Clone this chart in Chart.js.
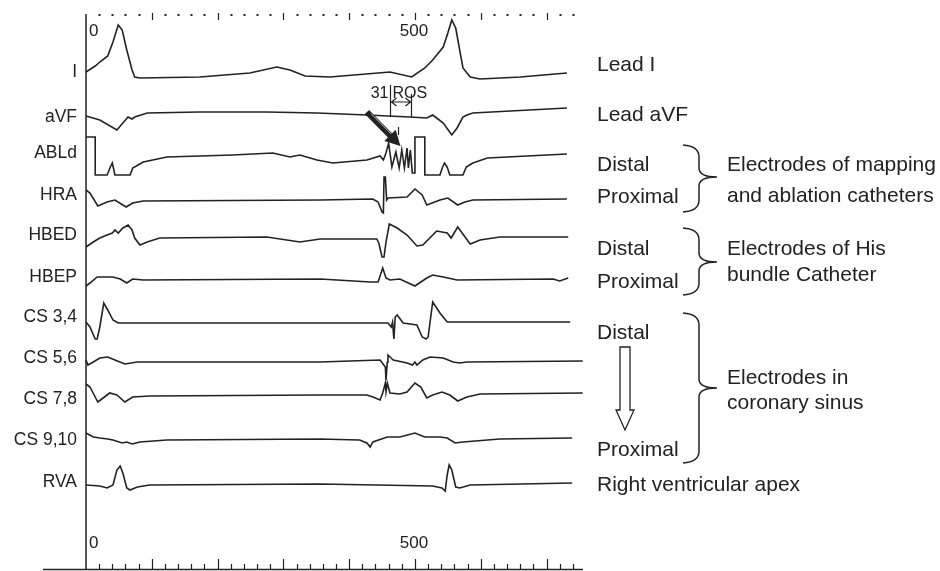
<!DOCTYPE html>
<html><head><meta charset="utf-8">
<script src="https://cdn.jsdelivr.net/npm/chart.js@4"></script>
<style>html,body{margin:0;padding:0;background:#fff}canvas{display:block}</style>
</head><body>
<canvas id="c" width="940" height="571"></canvas>
<script>
// ---- DATA (time in ms, amplitude in display units, up = positive) ----
const channelLabels = ['I','aVF','ABLd','HRA','HBED','HBEP','CS 3,4','CS 5,6','CS 7,8','CS 9,10','RVA'];
const leadI = [[0,5],[14,11],[21,15],[33,21],[41,35],[49,52],[55,47],[62,27],[70,7],[74,0],[82,-1],[173,0],[249,4],[290,10],[310,7],[333,1],[371,0],[462,5],[495,0],[515,9],[527,17],[543,30],[550,44],[556,57],[562,49],[568,27],[573,9],[584,0],[599,-2],[660,0],[731,4]];
const leadAVF = [[0,-3],[21,-7],[47,-17],[56,-10],[64,-4],[70,-6],[74,-4],[93,0],[173,1],[275,1],[351,0],[427,-2],[492,-4],[518,-5],[527,-2],[533,-5],[543,-10],[556,-22],[564,-15],[573,-4],[579,-2],[588,0],[731,5]];
const ablD = [[0,18],[14,18],[14,-20],[32,-20],[37,-12],[40,-8],[44,-20],[67,-20],[71,-13],[87,-7],[123,-2],[223,0],[284,2],[310,-2],[325,0],[351,-5],[375,-8],[427,-5],[447,-1],[452,-5],[456,2],[460,12],[465,-12],[471,3],[476,-13],[480,5],[484,-13],[488,7],[490,-13],[493,5],[496,-18],[500,-18],[500,18],[515,18],[515,-20],[538,-20],[542,-12],[545,-8],[549,-12],[553,-20],[573,-20],[578,-12],[588,-8],[610,-3],[731,1]];
const hra = [[0,10],[6,7],[18,-6],[32,-2],[44,0],[61,-7],[71,-3],[87,-1],[356,0],[436,1],[444,-2],[450,-12],[452,-13],[453,23],[455,23],[457,0],[459,2],[488,3],[500,11],[511,5],[518,-5],[538,0],[550,2],[565,-5],[576,-2],[588,0],[731,1]];
const hbed = [[0,-9],[11,-4],[21,0],[32,3],[40,5],[44,8],[49,5],[56,10],[64,13],[70,8],[74,0],[82,-7],[93,-4],[112,0],[275,1],[325,-4],[356,-1],[427,-1],[442,-1],[445,-5],[450,-19],[453,-19],[456,-4],[461,14],[473,10],[488,3],[503,-8],[512,-7],[533,7],[549,5],[555,0],[565,11],[584,-6],[599,-2],[629,1],[733,1]];
const hbep = [[0,-6],[6,-3],[17,3],[26,3],[41,3],[52,1],[62,-3],[71,1],[87,0],[356,1],[432,-2],[444,-2],[451,12],[456,2],[462,0],[477,1],[500,-6],[518,2],[527,5],[543,3],[564,0],[710,1],[720,-1],[733,2]];
const cs34 = [[0,1],[6,-4],[14,-16],[17,-16],[21,-4],[27,20],[33,13],[41,3],[49,0],[356,0],[459,0],[464,-4],[466,1],[468,-16],[470,6],[473,8],[482,0],[503,-2],[511,-14],[517,-16],[520,-14],[527,21],[538,10],[549,1],[736,1]];
const cs56 = [[0,2],[3,-3],[11,0],[21,4],[33,5],[44,2],[59,-2],[78,0],[356,0],[447,2],[455,-5],[456,-18],[458,0],[459,7],[467,2],[488,-1],[496,-3],[500,0],[503,-3],[512,2],[523,5],[543,4],[558,0],[568,-1],[579,0],[755,1]];
const cs78 = [[0,12],[6,9],[14,-1],[18,-6],[26,-2],[36,3],[47,1],[59,-6],[71,-1],[97,0],[356,1],[427,1],[436,-1],[447,-4],[451,3],[455,13],[456,4],[458,13],[462,3],[477,2],[488,4],[500,13],[509,9],[518,-2],[527,1],[541,4],[553,1],[565,-5],[579,-1],[599,2],[755,3]];
const cs910 = [[0,7],[11,3],[21,2],[33,1],[41,0],[55,-3],[62,-2],[70,-4],[82,-2],[123,0],[356,1],[416,0],[427,-3],[432,-7],[436,-2],[458,3],[477,3],[500,7],[515,3],[538,3],[549,2],[561,-3],[573,-2],[629,1],[739,2]];
const rva = [[0,0],[21,-1],[32,-3],[41,0],[47,15],[52,19],[56,12],[62,-3],[67,-5],[78,-2],[97,0],[356,1],[527,-1],[541,-3],[546,-6],[549,10],[552,20],[556,15],[562,-2],[568,-3],[584,0],[739,2]];
const tickLabels = [0, 500];
const rosStart = 462, rosEnd = 494, rosLabel = ['31', 'ROS'];

// ---- LAYOUT ----
const W = 940, H = 571;
const channels = [leadI, leadAVF, ablD, hra, hbed, hbep, cs34, cs56, cs78, cs910, rva];
const baselinePx = [77,113,155,200,238,280,323,362,396,440,485];
const labelPx = [72,117,153,195,235,277,317,358,399,440,482];
const FONT = '"Liberation Sans", Arial, Helvetica, sans-serif';
const INK = '#222';

const datasets = channels.map((ch, i) => ({
  label: channelLabels[i],
  data: ch.map(p => ({x: p[0], y: (H - baselinePx[i]) + p[1]})),
  borderColor: INK, borderWidth: 1.6, pointRadius: 0, tension: 0, fill: false, clip: false
}));

const deco = {
  id: 'deco',
  afterDraw(chart) {
    const ctx = chart.ctx, xs = chart.scales.x, ys = chart.scales.y;
    const X = v => xs.getPixelForValue(v);
    const Y = v => ys.getPixelForValue(v);
    ctx.save();
    ctx.strokeStyle = INK; ctx.fillStyle = INK; ctx.lineWidth = 1.5;
    // vertical axis
    ctx.beginPath(); ctx.moveTo(X(0), 14); ctx.lineTo(X(0), 570); ctx.stroke();
    // bottom axis
    ctx.beginPath(); ctx.moveTo(43, 569.5); ctx.lineTo(583, 569.5); ctx.stroke();
    ctx.lineWidth = 1.2;
    for (let v = 20; v <= 740; v += 20) {
      const px = Math.round(X(v)) + 0.5;
      const major = v % 100 === 0;
      ctx.beginPath(); ctx.moveTo(px, 569); ctx.lineTo(px, major ? 559 : 564); ctx.stroke();
      if (major) { ctx.beginPath(); ctx.moveTo(px, 13); ctx.lineTo(px, 20); ctx.stroke(); }
      else ctx.fillRect(px - 1, 14, 2, 2);
    }
    // tick labels
    ctx.font = '17px ' + FONT; ctx.textBaseline = 'middle';
    tickLabels.forEach(t => {
      ctx.textAlign = t === 0 ? 'left' : 'center';
      const px = t === 0 ? X(t) + 3 : X(t) - 1;
      ctx.fillText(String(t), px, 31);
      ctx.fillText(String(t), px, 543);
    });
    // channel labels
    ctx.font = '17.5px ' + FONT;
    ctx.textAlign = 'right';
    channelLabels.forEach((l, i) => ctx.fillText(l, 77, labelPx[i]));
    // ROS annotation
    ctx.lineWidth = 1.2;
    const r1 = Math.round(X(rosStart)) + 0.5, r2 = Math.round(X(rosEnd)) + 0.5;
    ctx.beginPath(); ctx.moveTo(r1, 85); ctx.lineTo(r1, 117); ctx.moveTo(r2, 94); ctx.lineTo(r2, 117); ctx.stroke();
    ctx.beginPath(); ctx.moveTo(r1 + 1, 102); ctx.lineTo(r2 - 1, 102);
    ctx.moveTo(r1 + 6, 98); ctx.lineTo(r1 + 1, 102); ctx.lineTo(r1 + 6, 106);
    ctx.moveTo(r2 - 6, 98); ctx.lineTo(r2 - 1, 102); ctx.lineTo(r2 - 6, 106); ctx.stroke();
    ctx.font = '16px ' + FONT;
    ctx.textAlign = 'right'; ctx.fillText(rosLabel[0], r1 - 2, 94);
    ctx.textAlign = 'left'; ctx.fillText(rosLabel[1], r1 + 2, 94);
    // small marker above fractionated signal
    const m = Math.round(X(474)) + 0.5;
    ctx.beginPath(); ctx.moveTo(m, 127); ctx.lineTo(m, 135); ctx.stroke();
    // big black arrow
    const ax0 = X(427), ay0 = Y(H - 112), ax1 = X(478), ay1 = Y(H - 146);
    const ang = Math.atan2(ay1 - ay0, ax1 - ax0);
    const hl = 15, hw = 8;
    const bx = ax1 - hl * Math.cos(ang), by = ay1 - hl * Math.sin(ang);
    ctx.lineWidth = 6; ctx.lineCap = 'butt';
    ctx.beginPath(); ctx.moveTo(ax0, ay0); ctx.lineTo(bx + 2 * Math.cos(ang), by + 2 * Math.sin(ang)); ctx.stroke();
    ctx.beginPath(); ctx.moveTo(ax1, ay1);
    ctx.lineTo(bx + hw * Math.sin(ang), by - hw * Math.cos(ang));
    ctx.lineTo(bx - hw * Math.sin(ang), by + hw * Math.cos(ang));
    ctx.closePath(); ctx.fill();
    ctx.strokeStyle = '#fff'; ctx.lineWidth = 0.7;
    ctx.beginPath();
    ctx.moveTo(ax0 + 3 + 1.8 * Math.sin(ang), ay0 + 3 * Math.tan(ang) - 1.8 * Math.cos(ang));
    ctx.lineTo(bx + 1.8 * Math.sin(ang), by - 1.8 * Math.cos(ang)); ctx.stroke();
    // right-side annotations
    ctx.strokeStyle = INK; ctx.fillStyle = INK;
    ctx.font = '21px ' + FONT; ctx.textAlign = 'left';
    const T = (s, x, y) => ctx.fillText(s, x, y);
    T('Lead I', 597, 65); T('Lead aVF', 597, 115);
    T('Distal', 597, 165); T('Proximal', 597, 197);
    T('Electrodes of mapping', 727, 165); T('and ablation catheters', 727, 196);
    T('Distal', 597, 249); T('Proximal', 597, 282);
    T('Electrodes of His', 727, 249); T('bundle Catheter', 727, 275);
    T('Distal', 597, 333); T('Proximal', 597, 450);
    T('Electrodes in', 727, 378); T('coronary sinus', 727, 403);
    T('Right ventricular apex', 597, 485);
    // braces
    ctx.lineWidth = 1.5;
    const brace = (top, bot, tipY) => {
      const x0 = 683, xm = 699, xt = 717;
      ctx.beginPath();
      ctx.moveTo(x0, top);
      ctx.quadraticCurveTo(xm, top + 1, xm, top + 12);
      ctx.lineTo(xm, tipY - 9);
      ctx.quadraticCurveTo(xm, tipY, xt, tipY);
      ctx.quadraticCurveTo(xm, tipY, xm, tipY + 9);
      ctx.lineTo(xm, bot - 12);
      ctx.quadraticCurveTo(xm, bot - 1, x0, bot);
      ctx.stroke();
    };
    brace(145, 212, 177); brace(228, 295, 262); brace(313, 463, 388);
    // hollow down arrow
    ctx.lineWidth = 1.3; ctx.fillStyle = '#fff';
    ctx.beginPath();
    ctx.moveTo(620, 347); ctx.lineTo(630, 347); ctx.lineTo(630, 410); ctx.lineTo(634, 410);
    ctx.lineTo(625, 430); ctx.lineTo(616, 410); ctx.lineTo(620, 410); ctx.closePath();
    ctx.fill(); ctx.stroke();
    ctx.restore();
  }
};

new Chart(document.getElementById('c'), {
  type: 'line',
  data: { datasets },
  options: {
    responsive: false, devicePixelRatio: 1, animation: false,
    layout: { padding: { left: 86, right: W - 586, top: 0, bottom: 0 } },
    scales: {
      x: { type: 'linear', min: 0, max: 760, display: false },
      y: { type: 'linear', min: 0, max: H, display: false }
    },
    plugins: { legend: { display: false }, tooltip: { enabled: false } }
  },
  plugins: [deco]
});
</script>
</body></html>
